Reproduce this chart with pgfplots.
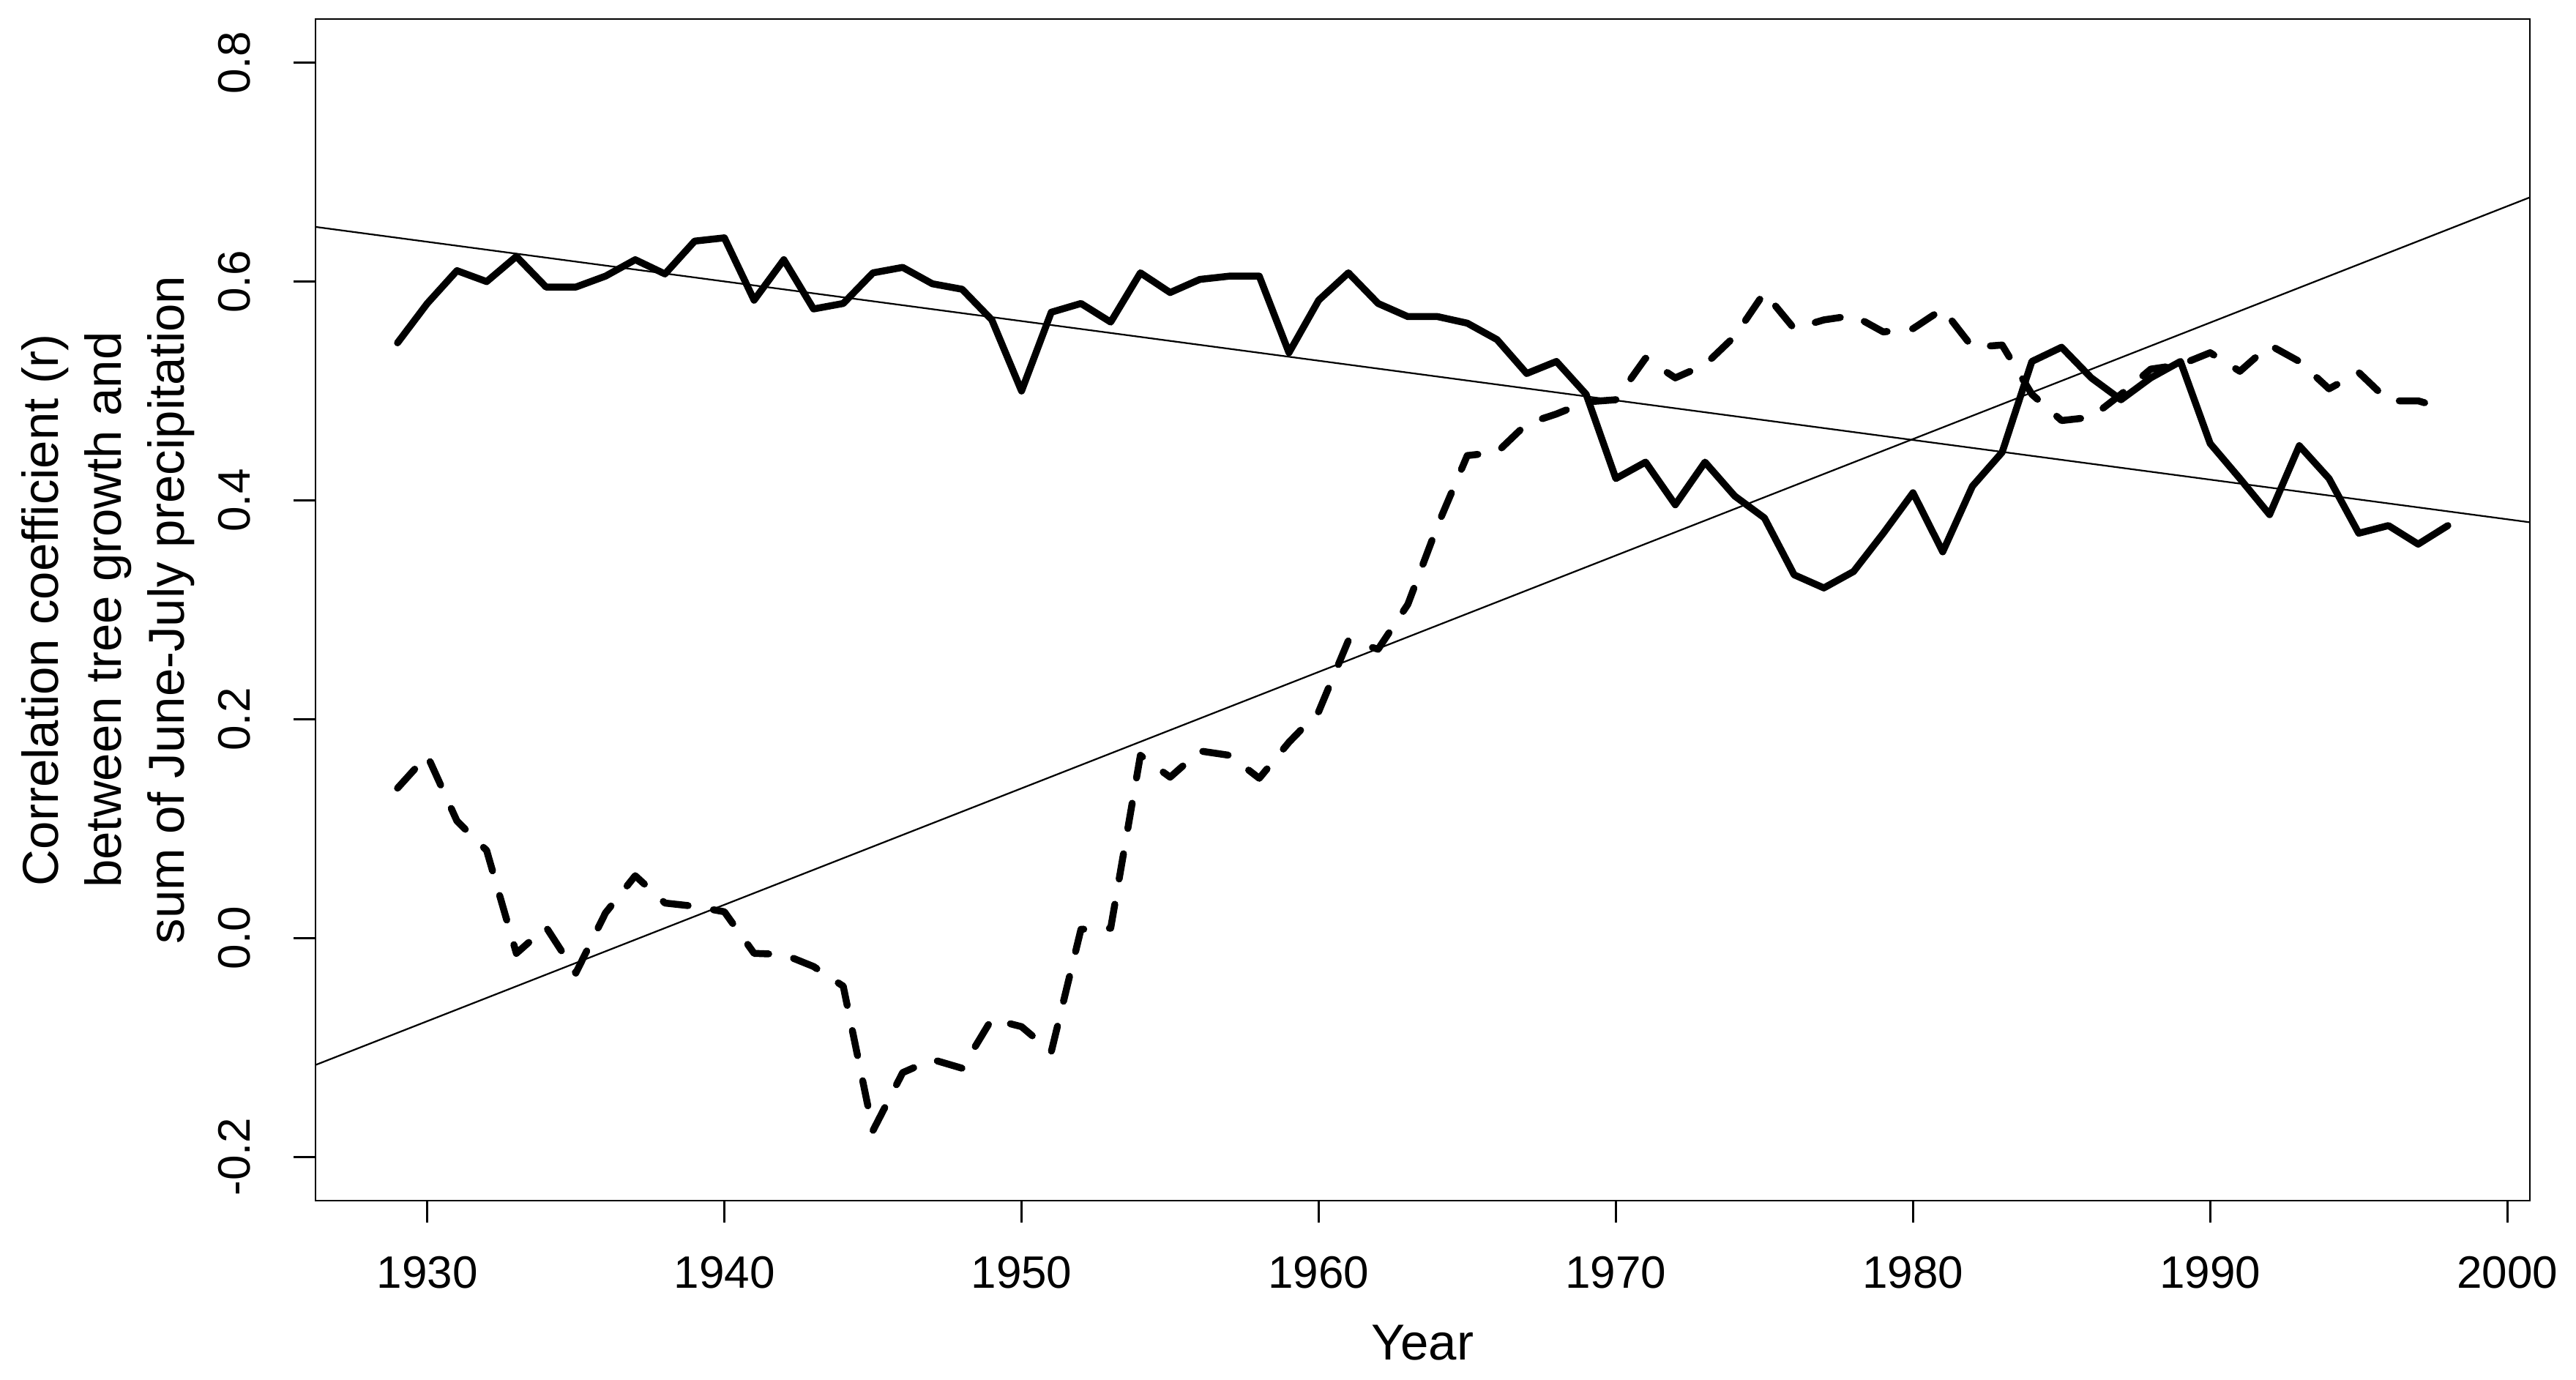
\documentclass[border=0pt]{standalone}
\usepackage{fontspec}
\setmainfont{Liberation Sans}
\usepackage{pgfplots}
\pgfplotsset{compat=1.18}
\begin{document}
\begin{tikzpicture}
\begin{axis}[
  name=ax, at={(0,0)}, anchor=south west,
  scale only axis, width=605pt, height=322.8pt,
  xmin=1926.24, xmax=2000.76, ymin=-0.24, ymax=0.84,
  xtick={1930,1940,1950,1960,1970,1980,1990,2000},
  xticklabels={1930,1940,1950,1960,1970,1980,1990,2000},
  ytick={-0.2,0,0.2,0.4,0.6,0.8},
  yticklabels={-0.2,0.0,0.2,0.4,0.6,0.8},
  xtick pos=bottom, ytick pos=left,
  tick align=outside, major tick length=6pt,
  every tick/.style={black, line width=0.55pt},
  axis line style={black, line width=0.55pt},
  xticklabel shift=9pt,
  xticklabel style={font=\fontsize{12.4}{14}\selectfont, anchor=north, inner sep=0pt},
  yticklabel style={font=\fontsize{12.4}{14}\selectfont, xshift=-11.6pt, rotate=90, anchor=south, inner sep=0pt},
  every axis x label/.style={at={(axis description cs:0.5,0)}, yshift=-43.6pt, anchor=base, inner sep=0pt, font=\fontsize{13.8}{17.2}\selectfont},
  every axis y label/.style={at={(axis description cs:0,0.5)}, xshift=-32.9pt, rotate=90, anchor=south, inner sep=0pt, align=center, font=\fontsize{13.8}{17.2}\selectfont},
  xlabel={Year},
  ylabel={Correlation coefficient (r)\\between tree growth and\\sum of June-July precipitation},
]
% trend lines
\addplot[black, line width=0.45pt] coordinates {(1926.24,0.650) (2000.76,0.380)};
\addplot[black, line width=0.45pt] coordinates {(1926.24,-0.116) (2000.76,0.677)};
% solid series
\addplot[black, line width=1.9pt, line join=round, line cap=round] coordinates {
(1929,0.544) (1930,0.580) (1931,0.610) (1932,0.600) (1933,0.623) (1934,0.595)
(1935,0.595) (1936,0.605) (1937,0.620) (1938,0.607) (1939,0.637) (1940,0.640)
(1941,0.583) (1942,0.620) (1943,0.575) (1944,0.580) (1945,0.608) (1946,0.613)
(1947,0.598) (1948,0.593) (1949,0.565) (1950,0.500) (1951,0.572) (1952,0.580)
(1953,0.563) (1954,0.608) (1955,0.590) (1956,0.602) (1957,0.605) (1958,0.605)
(1959,0.535) (1960,0.583) (1961,0.608) (1962,0.580) (1963,0.568) (1964,0.568)
(1965,0.562) (1966,0.547) (1967,0.516) (1968,0.527) (1969,0.497) (1970,0.420)
(1971,0.435) (1972,0.396) (1973,0.435) (1974,0.404) (1975,0.384) (1976,0.332)
(1977,0.320) (1978,0.335) (1979,0.370) (1980,0.407) (1981,0.353) (1982,0.413)
(1983,0.444) (1984,0.527) (1985,0.540) (1986,0.512) (1987,0.492) (1988,0.512)
(1989,0.527) (1990,0.452) (1991,0.420) (1992,0.387) (1993,0.450) (1994,0.420)
(1995,0.370) (1996,0.377) (1997,0.360) (1998,0.377)
};
% dashed series
\addplot[black, line width=1.9pt, line join=round, line cap=round, dash pattern=on 7pt off 7pt] coordinates {
(1929,0.137) (1930,0.167) (1931,0.107) (1932,0.080) (1933,-0.014) (1934,0.010)
(1935,-0.032) (1936,0.023) (1937,0.057) (1938,0.032) (1939,0.029) (1940,0.024)
(1941,-0.014) (1942,-0.015) (1943,-0.026) (1944,-0.044) (1945,-0.176) (1946,-0.123)
(1947,-0.111) (1948,-0.119) (1949,-0.074) (1950,-0.081) (1951,-0.104) (1952,0.008)
(1953,0.009) (1954,0.167) (1955,0.147) (1956,0.171) (1957,0.167) (1958,0.146)
(1959,0.179) (1960,0.207) (1961,0.272) (1962,0.264) (1963,0.305) (1964,0.377)
(1965,0.441) (1966,0.444) (1967,0.470) (1968,0.479) (1969,0.490) (1970,0.492)
(1971,0.530) (1972,0.512) (1973,0.524) (1974,0.550) (1975,0.590) (1976,0.557)
(1977,0.565) (1978,0.569) (1979,0.554) (1980,0.557) (1981,0.575) (1982,0.540)
(1983,0.542) (1984,0.497) (1985,0.473) (1986,0.476) (1987,0.497) (1988,0.520)
(1989,0.524) (1990,0.535) (1991,0.518) (1992,0.542) (1993,0.527) (1994,0.502)
(1995,0.517) (1996,0.491) (1997,0.491) (1998,0.483)
};
\end{axis}
\pgfresetboundingbox
\path (-86.2pt,-49pt) rectangle (617.6pt,328pt);
\end{tikzpicture}
\end{document}
